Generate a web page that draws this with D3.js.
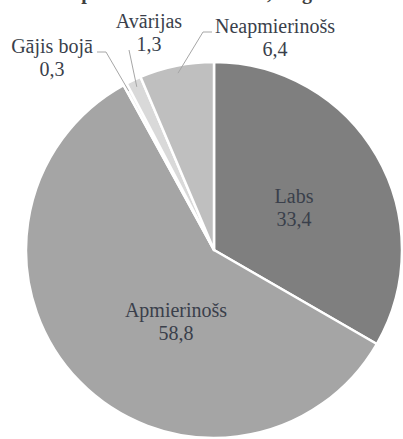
<!DOCTYPE html>
<html>
<head>
<meta charset="utf-8">
<script src="https://cdn.jsdelivr.net/npm/d3@7"></script>
<style>
  html, body { margin: 0; padding: 0; background: #fff; }
</style>
</head>
<body>
<div id="chart"></div>
<script>
const categories = ["Labs", "Apmierinošs", "Gājis bojā", "Avārijas", "Neapmierinošs"];
const values = [33.4, 58.8, 0.3, 1.3, 6.4];
const colors = ["#7f7f7f", "#a5a5a5", "#ebebeb", "#d9d9d9", "#bfbfbf"];
const titleText = "Apsekoto tiltu stāvoklis, % gadā";

const width = 403, height = 439;
const cx = 214, cy = 250, r = 188;
const font = "'Liberation Serif', 'DejaVu Serif', 'Times New Roman', Times, serif";

// label layout: [x, first baseline] ; leader start for outside labels
const labelPos = [[294, 203], [176, 317], [52, 53], [149, 28], [275, 33]];
const leaderStart = [null, null, [[97, 52], [106, 52]], [[129, 50]], [[212, 32], [203, 32]]];

const svg = d3.select("#chart").append("svg")
  .attr("width", width).attr("height", height);

// title sits mostly above the visible area, as in the source
svg.append("text")
  .attr("x", 205).attr("y", -1)
  .attr("text-anchor", "middle")
  .attr("font-family", font)
  .attr("font-size", 20).attr("font-weight", "bold")
  .attr("fill", "#404040")
  .text(titleText);

const data = categories.map((c, i) => ({ name: c, value: values[i], color: colors[i] }));

const pie = d3.pie().sort(null).value(d => d.value);
const arcs = pie(data);
const arc = d3.arc().innerRadius(0).outerRadius(r);

const g = svg.append("g").attr("transform", `translate(${cx},${cy})`);

g.selectAll("path")
  .data(arcs)
  .enter().append("path")
  .attr("d", arc)
  .attr("fill", d => d.data.color)
  .attr("stroke", "#fff")
  .attr("stroke-width", 2.5)
  .attr("stroke-linejoin", "round");

// leader lines for small slices
arcs.forEach((a, i) => {
  if (!leaderStart[i]) return;
  const mid = (a.startAngle + a.endAngle) / 2;
  const end = [cx + Math.sin(mid) * r * 0.96, cy - Math.cos(mid) * r * 0.96];
  const pts = leaderStart[i].concat([end]);
  svg.append("path")
    .attr("d", d3.line()(pts))
    .attr("fill", "none")
    .attr("stroke", "#a6a6a6")
    .attr("stroke-width", 1);
});

const fmt = v => String(v).replace(".", ",");

arcs.forEach((a, i) => {
  const [x, y] = labelPos[i];
  const t = svg.append("text")
    .attr("text-anchor", "middle")
    .attr("font-family", font)
    .attr("font-size", 20)
    .attr("fill", "#3a3f4b");
  t.append("tspan").attr("x", x).attr("y", y).text(a.data.name);
  t.append("tspan").attr("x", x).attr("y", y + 23).text(fmt(a.data.value));
});
</script>
</body>
</html>
